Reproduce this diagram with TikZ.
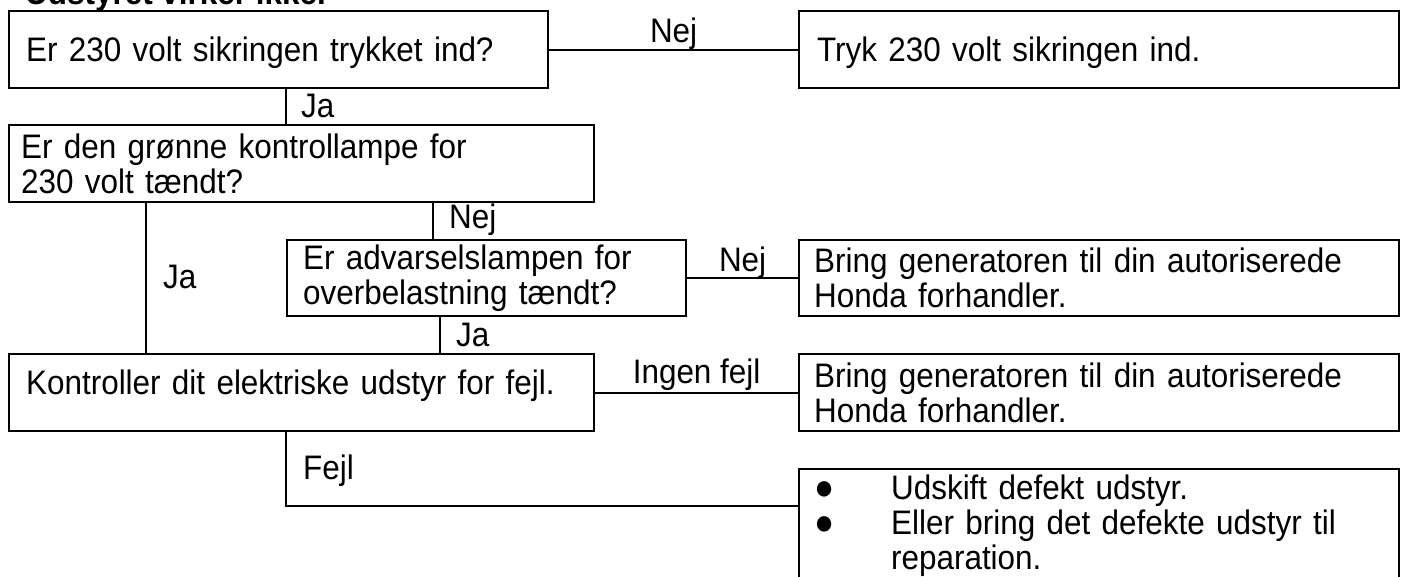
\documentclass[tikz,border=0pt]{standalone}
\usepackage{fontspec}
\setmainfont{Liberation Sans}[FakeStretch=0.925]
\newcommand{\bul}{\makebox[77pt][l]{{\fontsize{36}{35}\selectfont ●}}}
\begin{document}
\begin{tikzpicture}[x=1pt,y=-1pt,
  every node/.style={font=\fontsize{34}{35}\selectfont, inner sep=0pt},
  box/.style={draw, line width=2.2pt, anchor=north west, align=left, inner ysep=0pt},
  conn/.style={line width=2.2pt}]
\useasboundingbox (0,0) rectangle (1404,576);
\node[anchor=base west, font=\fontsize{34}{35}\selectfont\bfseries] (title) at (25,4) {Udstyret virker ikke.};
\node[box, inner xsep=17pt, text width=505pt, minimum height=77pt, text height=24.3pt, text depth=0pt] (A) at (8,10) {Er 230 volt sikringen trykket ind?};
\node[box, inner xsep=18pt, text width=564pt, minimum height=77pt, text height=24.3pt, text depth=0pt] (B) at (798,10) {Tryk 230 volt sikringen ind.};
\node[box, inner xsep=12pt, text width=561pt, minimum height=77pt] (C) at (8,124) {Er den grønne kontrollampe for\\230 volt tændt?};
\node[box, inner xsep=16pt, text width=367pt, minimum height=76pt] (D) at (286,239) {Er advarselslampen for\\overbelastning tændt?};
\node[box, inner xsep=15pt, text width=570pt, minimum height=76pt] (F) at (798,239) {Bring generatoren til din autoriserede\\Honda forhandler.};
\node[box, inner xsep=17pt, text width=551pt, minimum height=77pt, text height=24.3pt, text depth=21.3pt] (E) at (8,353) {Kontroller dit elektriske udstyr for fejl.};
\node[box, inner xsep=15pt, text width=570pt, minimum height=77pt] (G) at (798,353) {Bring generatoren til din autoriserede\\Honda forhandler.};
\node[box, inner xsep=15pt, inner ysep=6pt, text width=570pt] (H) at (798,468) {\bul Udskift defekt udstyr.\\\bul Eller bring det defekte udstyr til\\\hspace*{77pt}reparation.};
\coordinate (xa) at (286,0);
\coordinate (xl) at (146,0);
\coordinate (xn) at (433,0);
\coordinate (xj) at (440,0);
\coordinate (fturn) at (286,506);
\draw[conn] (A.east) -- node[midway, anchor=base, yshift=7pt] (l1) {Nej} (B.west);
\draw[conn] (A.south -| xa) -- node[pos=1, anchor=base west, xshift=14pt, yshift=7pt] (l2) {Ja} (C.north -| xa);
\draw[conn] (C.south -| xl) -- node[midway, anchor=base west, xshift=16pt, yshift=-10pt] (l3) {Ja} (E.north -| xl);
\draw[conn] (C.south -| xn) -- node[pos=1, anchor=base west, xshift=15pt, yshift=11pt] (l4) {Nej} (D.north -| xn);
\draw[conn] (D.east) -- node[midway, anchor=base, yshift=7pt] (l5) {Nej} (F.west);
\draw[conn] (D.south -| xj) -- node[pos=1, anchor=base west, xshift=15pt, yshift=7pt] (l6) {Ja} (E.north -| xj);
\draw[conn] (E.east) -- node[midway, anchor=base, yshift=9pt] (l7) {Ingen fejl} (G.west);
\draw[conn] (E.south -| fturn) -- node[pos=1, anchor=base west, xshift=16pt, yshift=27pt] (l8) {Fejl} (fturn) -- (fturn -| H.west);
\end{tikzpicture}
\end{document}
